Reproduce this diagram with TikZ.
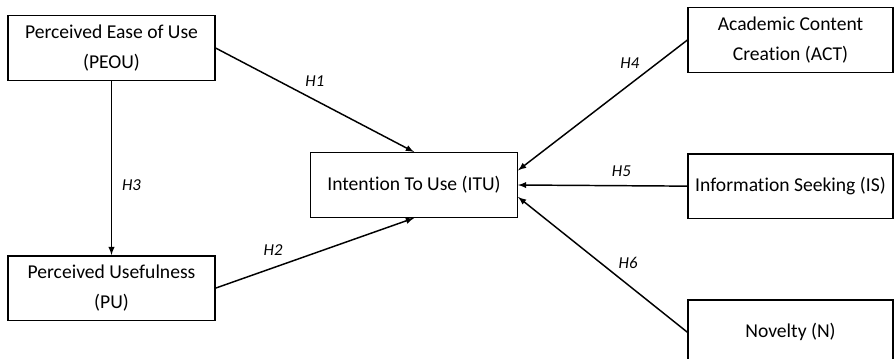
\documentclass[tikz,border=0pt]{standalone}
\usepackage{fontspec}
\setmainfont[RawFeature=-liga]{Carlito}
\usetikzlibrary{arrows,positioning}

\begin{document}
\begin{tikzpicture}[x=0.75pt,y=-0.75pt,->,>=latex,line width=1.1pt,node distance=60pt,
	var node/.style={draw,rectangle,align=center,minimum width=155pt,minimum height=48.5pt,inner sep=2pt,font=\fontsize{14.7}{22.5}\selectfont},
	hyp/.style={font=\fontsize{12.5}{14}\selectfont\itshape}]
	\useasboundingbox (0,0) rectangle (894,358);
	% constructs
	\node[var node] (peou) at (111.5,48) {Perceived Ease of Use\\(PEOU)};
	\node[var node] (pu) [below=130.5pt of peou] {Perceived Usefulness\\(PU)};
	\node[var node] (itu) at (414,185) {Intention To Use (ITU)};
	\node[var node,minimum width=153.5pt] (act) at (790.5,40) {Academic Content\\Creation (ACT)};
	\node[var node,minimum width=153.5pt] (is) [below=of act] {Information Seeking (IS)};
	\node[var node,minimum width=153.5pt] (nov) [below=of is] {Novelty (N)};

	% hypotheses
	\path[every node/.style={hyp}]
		(peou.east) edge node[above=6pt] {H1} (itu.north)
		(pu.east) edge node[above=5pt,pos=.29] {H2} (itu.south)
		(peou) edge node[right=4pt,pos=.6] {H3} (pu)
		(act.west) edge node[above=8pt,pos=.34] {H4} ([yshift=11pt]itu.east)
		(is.west) edge node[above=3pt,pos=.39] {H5} (itu.east)
		(nov.west) edge node[above=8pt,pos=.35] {H6} ([yshift=-9pt]itu.east);
\end{tikzpicture}
\end{document}
